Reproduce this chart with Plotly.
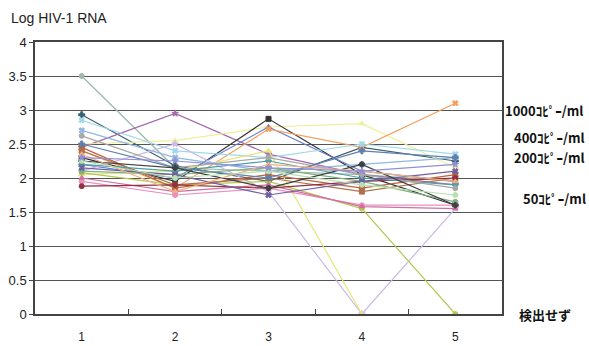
import plotly.graph_objects as go

visits = ["1", "2", "3", "4", "5"]

p01 = [3.50, 2.15, 2.10, 2.05, 1.95]
p02 = [2.93, 2.18, 1.95, 2.45, 2.25]
p03 = [2.45, 2.95, 2.35, 2.05, 1.90]
p04 = [2.50, 2.55, 2.75, 2.80, 2.15]
p05 = [2.30, 1.95, 2.87, 2.05, 1.60]
p06 = [2.20, 2.00, 2.75, 2.10, 1.95]
p07 = [2.40, 1.85, 2.72, 2.45, 3.10]
p08 = [2.85, 2.40, 2.30, 2.50, 2.35]
p09 = [2.10, 2.50, 1.80, 0.00, 1.55]
p10 = [2.05, 2.10, 2.40, 0.00, None]
p11 = [2.08, 1.90, 1.95, 1.55, 0.00]
p12 = [2.45, 1.85, 2.05, 1.85, 2.05]
p13 = [2.40, 1.90, 2.00, 1.80, 2.00]
p14 = [1.95, 1.75, 1.85, 1.60, 1.60]
p15 = [2.00, 1.80, 1.90, 1.58, 1.55]
p16 = [1.88, 1.90, 1.85, 1.95, 2.00]
p17 = [2.20, 2.10, 2.25, 2.00, 1.90]
p18 = [2.62, 2.15, 2.30, 2.05, 1.85]
p19 = [2.70, 2.30, 2.10, 2.20, 2.30]
p20 = [2.50, 2.15, 2.00, 2.40, 2.30]
p21 = [2.10, 2.05, 2.15, 1.95, 1.65]
p22 = [2.15, 2.05, 1.75, 1.95, 2.10]
p23 = [2.25, 2.15, 1.85, 2.20, 1.60]
p24 = [2.35, 1.80, 2.20, 2.10, 1.95]
p25 = [2.25, 2.00, 2.10, 1.90, 1.75]
p26 = [2.30, 2.25, 2.15, 2.10, 2.20]

series = [p01, p02, p03, p04, p05, p06, p07, p08, p09, p10, p11, p12, p13,
          p14, p15, p16, p17, p18, p19, p20, p21, p22, p23, p24, p25, p26]

colors = ["#9bbaa9", "#3d5f6f", "#a568aa", "#efef9a", "#333333", "#6a7fd0",
          "#f4a060", "#a0d8ec", "#cdb8e6", "#e6e67a", "#b5c850", "#c0603c",
          "#b0704a", "#e890c0", "#d070a0", "#903040", "#4aa0a8", "#a8a8a8",
          "#90b8e0", "#5f7fb0", "#80b080", "#7060a0", "#404040", "#f0b080",
          "#b8e0b0", "#9090d8"]
symbols = ["circle", "cross", "star", "triangle-up", "square", "triangle-up",
           "x", "x", "star", "triangle-up", "circle", "square", "square",
           "circle", "triangle-up", "circle", "diamond", "circle", "x",
           "cross", "circle", "x", "diamond", "triangle-up", "circle", "star"]

fig = go.Figure()
for vals, c, s in zip(series, colors, symbols):
    fig.add_trace(go.Scatter(
        x=visits, y=vals, mode="lines+markers",
        line=dict(color=c, width=1.2),
        marker=dict(color=c, symbol=s, size=5, line=dict(width=1, color=c)),
        connectgaps=False, showlegend=False, hoverinfo="skip"))

L, R, T, B = 35, 87, 42, 32
W, H = 589, 346
pw = W - L - R

fig.update_layout(
    width=W, height=H,
    margin=dict(l=L, r=R, t=T, b=B),
    paper_bgcolor="white", plot_bgcolor="white",
    font=dict(family="Liberation Sans, Arial, sans-serif", size=12, color="#222"),
    xaxis=dict(type="category", range=[-0.5, 4.5], tickson="boundaries",
               ticks="inside", ticklen=5,
               tickcolor="#444", showgrid=False, showline=True, linecolor="#444",
               linewidth=1.5, mirror=True, ticklabelstandoff=11,
               automargin=False, tickfont=dict(size=12)),
    yaxis=dict(range=[0, 4], dtick=0.5, showgrid=True, gridcolor="#555",
               gridwidth=1, showline=True, linecolor="#444", linewidth=1.5,
               mirror=True, ticks="outside", ticklen=4, tickcolor="#444",
               zeroline=False, automargin=False, tickfont=dict(size=13)),
)

fig.add_annotation(text="Log HIV-1 RNA", xref="paper", yref="paper",
                   x=(9 - L) / pw, y=1 + (T - 18) / (H - T - B),
                   xanchor="left", yanchor="middle", showarrow=False,
                   font=dict(size=14, color="#222"))

jp = "Noto Sans CJK JP, sans-serif"
labels = [("1000ｺﾋﾟｰ/ml", 3.0, 503), ("400ｺﾋﾟｰ/ml", 2.6, 512),
          ("200ｺﾋﾟｰ/ml", 2.3, 512), ("50ｺﾋﾟｰ/ml", 1.7, 521),
          ("検出せず", 0.0, 517)]
for txt, yv, px in labels:
    fig.add_annotation(text="<b>" + txt + "</b>", xref="paper", yref="y",
                       x=(px - L) / pw, y=yv,
                       xanchor="left", yanchor="middle", showarrow=False,
                       font=dict(family=jp, size=13, color="#111"))

fig.write_html("out.html")
